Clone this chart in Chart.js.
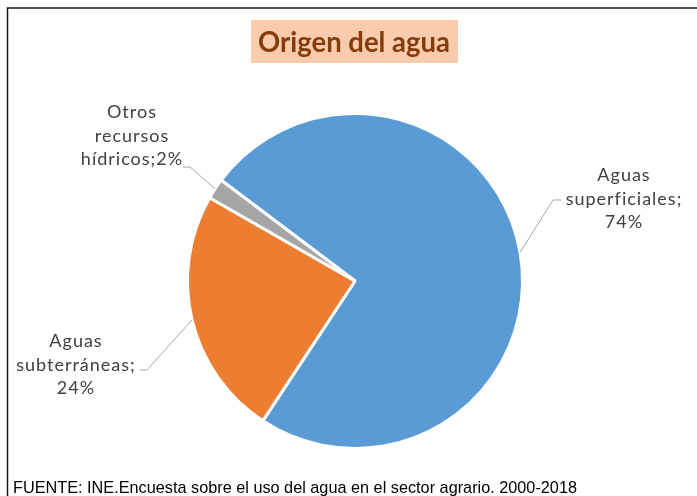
<!DOCTYPE html>
<html>
<head>
<meta charset="utf-8">
<script src="https://cdn.jsdelivr.net/npm/chart.js@4.4.1/dist/chart.umd.min.js"></script>
<style>
  html, body { margin: 0; padding: 0; background: #fff; }
  #wrap { width: 697px; height: 496px; }
</style>
</head>
<body>
<div id="wrap"><canvas id="chart" width="697" height="496"></canvas></div>
<script>
const title = 'Origen del agua';
const source = 'FUENTE: INE.Encuesta sobre el uso del agua en el sector agrario. 2000-2018';
const categories = ['Aguas superficiales', 'Aguas subterráneas', 'Otros recursos hídricos'];
const values = [74, 24, 2];
const colors = ['#5B9BD5', '#ED7D31', '#A5A5A5'];

// where each data label sits (centre x, first baseline) and where its leader line bends
const labelLayout = [
  { cx: 624, y: 181, elbowX: 553, elbowY: 200, endX: 561, sameLine: false },
  { cx: 76, y: 347, elbowX: 147, elbowY: 370, endX: 140, sameLine: false },
  { cx: 132, y: 118, elbowX: 190, elbowY: 167, endX: 183, sameLine: true }
];

function labelLines(i) {
  const w = categories[i].split(' ');
  if (labelLayout[i].sameLine) return [w[0], w[1], w[2] + ';' + values[i] + '%'];
  return [w[0], w[1] + ';', values[i] + '%'];
}

const decorations = {
  id: 'decorations',
  afterDraw(chart) {
    const ctx = chart.ctx;
    ctx.save();

    // frame (only left and top edges visible)
    ctx.strokeStyle = '#1a1a1a';
    ctx.lineWidth = 1.5;
    ctx.beginPath();
    ctx.moveTo(7.5, 496);
    ctx.lineTo(7.5, 8);
    ctx.lineTo(697, 8);
    ctx.stroke();

    // title box
    ctx.fillStyle = '#F8CBAD';
    ctx.fillRect(251, 20, 207, 43);
    ctx.fillStyle = '#843C0C';
    ctx.font = 'bold 28px Lato';
    ctx.textAlign = 'center';
    ctx.textBaseline = 'alphabetic';
    const tw = ctx.measureText(title).width;
    ctx.save();
    ctx.translate(354, 52);
    ctx.scale(192 / tw, 1);
    ctx.fillText(title, 0, 0);
    ctx.restore();

    // leader lines
    const arcs = chart.getDatasetMeta(0).data;
    ctx.strokeStyle = '#A6A6A6';
    ctx.lineWidth = 1;
    arcs.forEach((arc, i) => {
      const p = arc.getProps(['x', 'y', 'startAngle', 'endAngle', 'outerRadius'], true);
      const mid = (p.startAngle + p.endAngle) / 2;
      const L = labelLayout[i];
      ctx.beginPath();
      ctx.moveTo(p.x + Math.cos(mid) * p.outerRadius, p.y + Math.sin(mid) * p.outerRadius);
      ctx.lineTo(L.elbowX, L.elbowY);
      ctx.lineTo(L.endX, L.elbowY);
      ctx.stroke();
    });

    // data labels
    ctx.fillStyle = '#404040';
    ctx.font = '18px Lato';
    ctx.letterSpacing = '1px';
    ctx.textAlign = 'center';
    labelLayout.forEach((L, i) => {
      labelLines(i).forEach((t, k) => ctx.fillText(t, L.cx, L.y + k * 23.5));
    });
    ctx.letterSpacing = '0px';

    // source note, squeezed like a narrow font
    ctx.fillStyle = '#000';
    ctx.font = '17px "Liberation Sans"';
    ctx.textAlign = 'left';
    const w = ctx.measureText(source).width;
    ctx.translate(13, 493);
    ctx.scale(564 / w, 1);
    ctx.fillText(source, 0, 0);

    ctx.restore();
  }
};

new Chart(document.getElementById('chart'), {
  type: 'pie',
  data: {
    labels: categories,
    datasets: [{
      data: values,
      backgroundColor: colors,
      borderColor: '#fff',
      borderWidth: 3
    }]
  },
  options: {
    responsive: false,
    devicePixelRatio: 1,
    animation: false,
    rotation: -53,
    layout: { padding: { left: 186, right: 173, top: 112, bottom: 46 } },
    plugins: {
      legend: { display: false },
      tooltip: { enabled: false }
    }
  },
  plugins: [decorations]
});
</script>
</body>
</html>
